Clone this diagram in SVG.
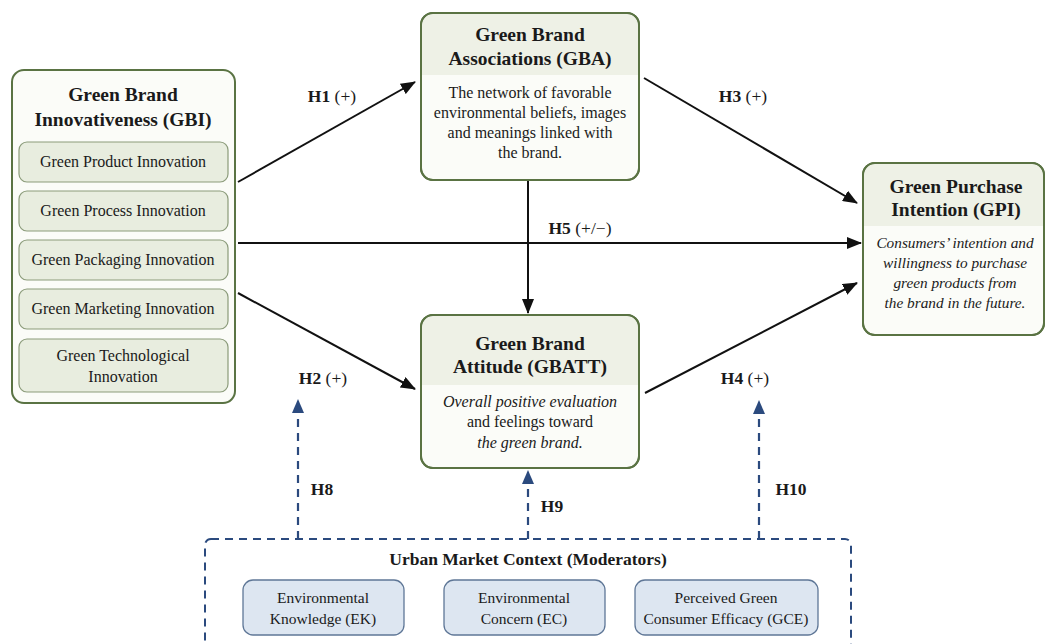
<svg xmlns="http://www.w3.org/2000/svg" width="1046" height="644" viewBox="0 0 1046 644">
<defs>
<marker id="ah" markerUnits="userSpaceOnUse" markerWidth="15" markerHeight="12" refX="14" refY="6" orient="auto">
<path d="M0,0 L15,6 L0,12 Z" fill="#111"/>
</marker>
<marker id="ahb" markerUnits="userSpaceOnUse" markerWidth="14" markerHeight="12" refX="13" refY="6" orient="auto">
<path d="M0,0 L14,6 L0,12 Z" fill="#2b4a7e"/>
</marker>
<style>
text{font-family:"Liberation Serif","Times New Roman",serif;fill:#1a1a1a;text-anchor:middle}
.t{font-size:19.5px;font-weight:bold}
.b{font-size:16px}
.g{font-size:15.3px}
.s{font-size:16px}
.m{font-size:15.5px}
.i{font-style:italic}
.lab{font-size:17.5px}
.lab .h{font-weight:bold}
.node{fill:#fbfcf8;stroke:#5a7343;stroke-width:2}
.hdr{fill:#eef1e6}
.sub{fill:#e8eddf;stroke:#8b9b7a;stroke-width:1.2}
.mod{fill:#dde6f1;stroke:#5f7797;stroke-width:1.3}
.arr{stroke:#111;stroke-width:2;fill:none;marker-end:url(#ah)}
.darr{stroke:#2b4a7e;stroke-width:2.2;fill:none;stroke-dasharray:8 6;marker-end:url(#ahb)}
</style>
</defs>
<rect width="1046" height="644" fill="#ffffff"/>

<g id="connectors">
<line class="arr" x1="238" y1="182" x2="415" y2="82"/>
<line class="arr" x1="238" y1="243" x2="861" y2="243"/>
<line class="arr" x1="238" y1="293" x2="415" y2="389"/>
<line class="arr" x1="644" y1="78" x2="857" y2="203"/>
<line class="arr" x1="645" y1="393" x2="857" y2="283"/>
<line class="arr" x1="528" y1="180" x2="528" y2="313"/>
<line class="darr" x1="298" y1="539" x2="298" y2="400"/>
<line class="darr" x1="528" y1="539" x2="528" y2="471"/>
<line class="darr" x1="759" y1="539" x2="759" y2="401"/>
<text class="lab" x="332" y="102"><tspan class="h">H1</tspan> (+)</text>
<text class="lab" x="323" y="384"><tspan class="h">H2</tspan> (+)</text>
<text class="lab" x="743" y="102"><tspan class="h">H3</tspan> (+)</text>
<text class="lab" x="745" y="384"><tspan class="h">H4</tspan> (+)</text>
<text class="lab" x="580" y="234"><tspan class="h">H5</tspan> (+/−)</text>
<text class="lab" x="322" y="495"><tspan class="h">H8</tspan></text>
<text class="lab" x="552" y="512"><tspan class="h">H9</tspan></text>
<text class="lab" x="791" y="495"><tspan class="h">H10</tspan></text>
</g>

<g id="GBI">
<rect x="12" y="70" width="223" height="333" rx="12" fill="#fbfcf8" stroke="#5a7343" stroke-width="2"/>
<text class="t" x="123" y="101">Green Brand</text>
<text class="t" x="123" y="126">Innovativeness (GBI)</text>
<rect class="sub" x="19" y="142" width="209" height="40" rx="8"/>
<text class="s" x="123" y="167">Green Product Innovation</text>
<rect class="sub" x="19" y="191" width="209" height="40" rx="8"/>
<text class="s" x="123" y="216">Green Process Innovation</text>
<rect class="sub" x="19" y="240" width="209" height="40" rx="8"/>
<text class="s" x="123" y="265">Green Packaging Innovation</text>
<rect class="sub" x="19" y="289" width="209" height="40" rx="8"/>
<text class="s" x="123" y="314">Green Marketing Innovation</text>
<rect class="sub" x="19" y="339" width="209" height="53" rx="8"/>
<text class="s" x="123" y="361">Green Technological</text>
<text class="s" x="123" y="382">Innovation</text>
</g>

<g id="GBA">
<rect class="node" x="421" y="13" width="218" height="167" rx="12"/>
<path class="hdr" d="M422,75 V25 A11,11 0 0 1 433,14 H627 A11,11 0 0 1 638,25 V75 Z"/>
<rect x="421" y="13" width="218" height="167" rx="12" fill="none" stroke="#5a7343" stroke-width="2"/>
<text class="t" x="530" y="41">Green Brand</text>
<text class="t" x="530" y="65">Associations (GBA)</text>
<text class="b" x="530" y="98">The network of favorable</text>
<text class="b" x="530" y="118">environmental beliefs, images</text>
<text class="b" x="530" y="138">and meanings linked with</text>
<text class="b" x="530" y="158">the brand.</text>
</g>

<g id="GBATT">
<rect class="node" x="421" y="315" width="218" height="153" rx="12"/>
<path class="hdr" d="M422,385 V327 A11,11 0 0 1 433,316 H627 A11,11 0 0 1 638,327 V385 Z"/>
<rect x="421" y="315" width="218" height="153" rx="12" fill="none" stroke="#5a7343" stroke-width="2"/>
<text class="t" x="530" y="350">Green Brand</text>
<text class="t" x="530" y="373">Attitude (GBATT)</text>
<text class="b i" x="530" y="407">Overall positive evaluation</text>
<text class="b" x="530" y="427">and feelings toward</text>
<text class="b i" x="530" y="448">the green brand.</text>
</g>

<g id="GPI">
<rect class="node" x="863" y="163" width="181" height="172" rx="12"/>
<path class="hdr" d="M864,226 V175 A11,11 0 0 1 875,164 H1032 A11,11 0 0 1 1043,175 V226 Z"/>
<rect x="863" y="163" width="181" height="172" rx="12" fill="none" stroke="#5a7343" stroke-width="2"/>
<text class="t" x="956" y="193">Green Purchase</text>
<text class="t" x="956" y="216">Intention (GPI)</text>
<text class="g i" x="955" y="248">Consumers’ intention and</text>
<text class="g i" x="955" y="268">willingness to purchase</text>
<text class="g i" x="955" y="288">green products from</text>
<text class="g i" x="955" y="308">the brand in the future.</text>
</g>

<g id="moderators">
<rect x="205" y="539" width="646" height="140" rx="6" fill="none" stroke="#2b4a7e" stroke-width="2" stroke-dasharray="8 6"/>
<text x="528" y="565" style="font-size:17.5px;font-weight:bold">Urban Market Context (Moderators)</text>
</g>

<g id="EK">
<rect class="mod" x="243" y="580" width="161" height="55" rx="10"/>
<text class="m" x="323" y="603">Environmental</text>
<text class="m" x="323" y="624">Knowledge (EK)</text>
</g>

<g id="EC">
<rect class="mod" x="444" y="580" width="161" height="55" rx="10"/>
<text class="m" x="524" y="603">Environmental</text>
<text class="m" x="524" y="624">Concern (EC)</text>
</g>

<g id="GCE">
<rect class="mod" x="635" y="580" width="183" height="55" rx="10"/>
<text class="m" x="726" y="603">Perceived Green</text>
<text class="m" x="726" y="624">Consumer Efficacy (GCE)</text>
</g>
</svg>
